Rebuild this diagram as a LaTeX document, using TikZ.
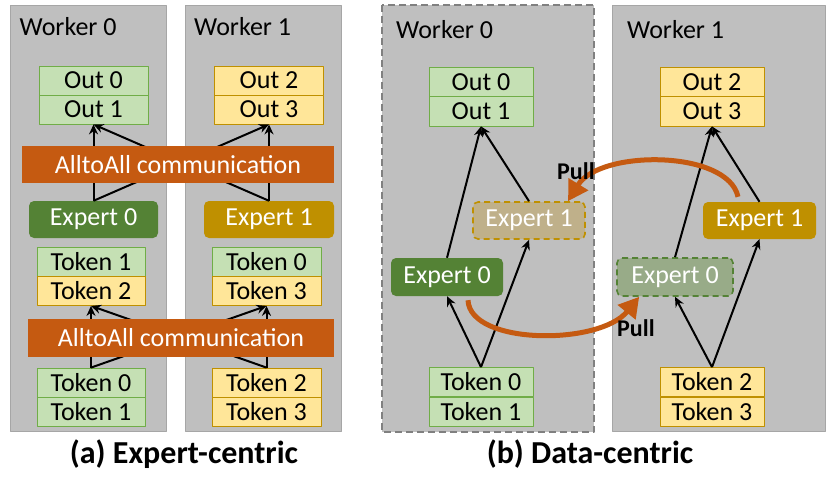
\documentclass[tikz,border=0pt]{standalone}
\usepackage{fontspec}
\setmainfont{Carlito}
\usetikzlibrary{arrows.meta}

\definecolor{workergray}{HTML}{BFBFBF}
\definecolor{workerline}{HTML}{A6A6A6}
\definecolor{workerdash}{HTML}{808080}
\definecolor{tokgreen}{HTML}{C5E0B4}
\definecolor{tokgreenline}{HTML}{70AD47}
\definecolor{tokyellow}{HTML}{FFE699}
\definecolor{tokyellowline}{HTML}{BF9000}
\definecolor{expgreen}{HTML}{548235}
\definecolor{expgold}{HTML}{BF9000}
\definecolor{commorange}{HTML}{C55A11}
\definecolor{ghostgold}{HTML}{BFB08A}
\definecolor{ghostgreen}{HTML}{98AB88}

\tikzset{
  worker/.style={draw=workerline, fill=workergray, line width=0.8pt},
  workertext/.style={anchor=base west, inner sep=0pt},
  gcell/.style={draw=tokgreenline, fill=tokgreen, line width=0.8pt, inner sep=0pt, minimum height=29pt, minimum width=#1},
  gcell/.default=109pt,
  ycell/.style={draw=tokyellowline, fill=tokyellow, line width=0.8pt, inner sep=0pt, minimum height=29pt, minimum width=#1},
  ycell/.default=109pt,
  expert/.style={rounded corners=5pt, text=white, inner sep=0pt, minimum height=37pt},
  ghost/.style={expert, dash pattern=on 6pt off 4pt, line width=1.6pt},
  comm/.style={fill=commorange, text=white, inner sep=0pt, minimum height=37pt},
  flow/.style={->, line width=2pt},
  pull/.style={draw=commorange, line width=5pt, -{Triangle[length=20pt,width=22pt]}},
  pulltext/.style={anchor=base west, inner sep=0pt, font=\fontsize{24}{28}\selectfont\bfseries},
  caption/.style={anchor=base, inner sep=0pt, font=\fontsize{32}{36}\selectfont\bfseries}
}

\begin{document}
\begin{tikzpicture}[x=1pt, y=-1pt, line join=round, font=\fontsize{26}{30}\selectfont,
  >={Stealth[length=10pt,width=9pt]}]
  \useasboundingbox (0,0) rectangle (834,477);

  % ---------- (a) Expert-centric ----------
  \draw[worker] (10,5) rectangle (166,431);
  \draw[worker] (185,5) rectangle (341,431);
  \node[workertext] (a-w0) at (19.5,35) {Worker 0};
  \node[workertext] (a-w1) at (194,35) {Worker 1};

  % outputs
  \node[gcell] (a-out0) at (93.5,80.5) {Out 0};
  \node[gcell] (a-out1) at (93.5,109.5) {Out 1};
  \node[ycell] (a-out2) at (269,80.5) {Out 2};
  \node[ycell] (a-out3) at (269,109.5) {Out 3};

  % experts
  \node[expert, fill=expgreen, minimum width=129pt] (a-e0) at (93.5,219.5) {Expert 0};
  \node[expert, fill=expgold, minimum width=130pt] (a-e1) at (269,219.5) {Expert 1};

  % tokens after dispatch
  \node[gcell=108pt] (a-m1) at (91,261.5) {Token 1};
  \node[ycell=108pt] (a-m2) at (91,291) {Token 2};
  \node[gcell=109pt] (a-m0) at (266.5,261.5) {Token 0};
  \node[ycell=109pt] (a-m3) at (266.5,291) {Token 3};

  % input tokens
  \node[gcell=108pt] (a-t0) at (91,382.5) {Token 0};
  \node[gcell=108pt] (a-t1) at (91,411.5) {Token 1};
  \node[ycell=109pt] (a-t2) at (266.5,382.5) {Token 2};
  \node[ycell=109pt] (a-t3) at (266.5,411.5) {Token 3};

  % crossing flows
  \draw[flow] (a-e0.north) -- (a-out1.south);
  \draw[flow] (a-e0.north) -- (a-out3.south);
  \draw[flow] (a-e1.north) -- (a-out1.south);
  \draw[flow] (a-e1.north) -- (a-out3.south);
  \draw[flow] (a-t0.north) -- (a-m2.south);
  \draw[flow] (a-t0.north) -- (a-m3.south);
  \draw[flow] (a-t2.north) -- (a-m2.south);
  \draw[flow] (a-t2.north) -- (a-m3.south);

  % communication bars on top
  \node[comm, minimum width=312pt] (a-comm1) at (178,164.5) {AlltoAll communication};
  \node[comm, minimum width=306pt, minimum height=38pt] (a-comm2) at (181,338) {AlltoAll communication};

  \node[caption] (a-cap) at (184,463) {(a) Expert-centric};

  % ---------- (b) Data-centric ----------
  \draw[worker, draw=workerdash, line width=1.6pt, dash pattern=on 7pt off 4pt] (382,5) rectangle (594,432);
  \draw[worker] (612,5) rectangle (825,431);
  \node[workertext] (b-w0) at (396,38) {Worker 0};
  \node[workertext] (b-w1) at (627,38) {Worker 1};

  % outputs
  \node[gcell=104pt, minimum height=29.5pt] (b-out0) at (481,81.75) {Out 0};
  \node[gcell=104pt, minimum height=29.5pt] (b-out1) at (481,111.25) {Out 1};
  \node[ycell=104pt, minimum height=29.5pt] (b-out2) at (712,81.75) {Out 2};
  \node[ycell=104pt, minimum height=29.5pt] (b-out3) at (712,111.25) {Out 3};

  % experts, real and pulled
  \node[ghost, draw=expgold, fill=ghostgold, minimum width=112pt] (b-g1) at (529,220.5) {Expert 1};
  \node[expert, fill=expgold, minimum width=113pt] (b-e1) at (759.5,220.5) {Expert 1};
  \node[expert, fill=expgreen, minimum width=112pt, minimum height=38pt] (b-e0) at (447,277) {Expert 0};
  \node[ghost, draw=expgreen, fill=ghostgreen, minimum width=116pt, minimum height=38pt] (b-g0) at (675,277) {Expert 0};

  % input tokens
  \node[gcell=104pt] (b-t0) at (481,382) {Token 0};
  \node[gcell=104pt] (b-t1) at (481,411.5) {Token 1};
  \node[ycell=104pt] (b-t2) at (712,382) {Token 2};
  \node[ycell=104pt] (b-t3) at (712,411.5) {Token 3};

  % local flows
  \draw[flow] (b-t0.north) -- (b-e0.south);
  \draw[flow] (b-t0.north) -- (b-g1.south);
  \draw[flow] (b-e0.north) -- (b-out1.south);
  \draw[flow] (b-g1.north) -- (b-out1.south);
  \draw[flow] (b-t2.north) -- (b-g0.south);
  \draw[flow] (b-t2.north) -- (b-e1.south);
  \draw[flow] (b-g0.north) -- (b-out3.south);
  \draw[flow] (b-e1.north) -- (b-out3.south);

  % pulls
  \draw[pull] ([xshift=-21.5pt,yshift=5pt]b-e1.north) .. controls +(-10,-47) and +(32,-52) .. ([xshift=39pt]b-g1.north);
  \draw[pull] ([xshift=21pt,yshift=-4pt]b-e0.south) .. controls +(2,45) and +(-40,49) .. ([xshift=23pt]b-g0.south west);
  \node[pulltext] (b-pull1) at (557,179) {Pull};
  \node[pulltext] (b-pull2) at (617,336) {Pull};

  \node[caption] (b-cap) at (590,463) {(b) Data-centric};
\end{tikzpicture}
\end{document}
